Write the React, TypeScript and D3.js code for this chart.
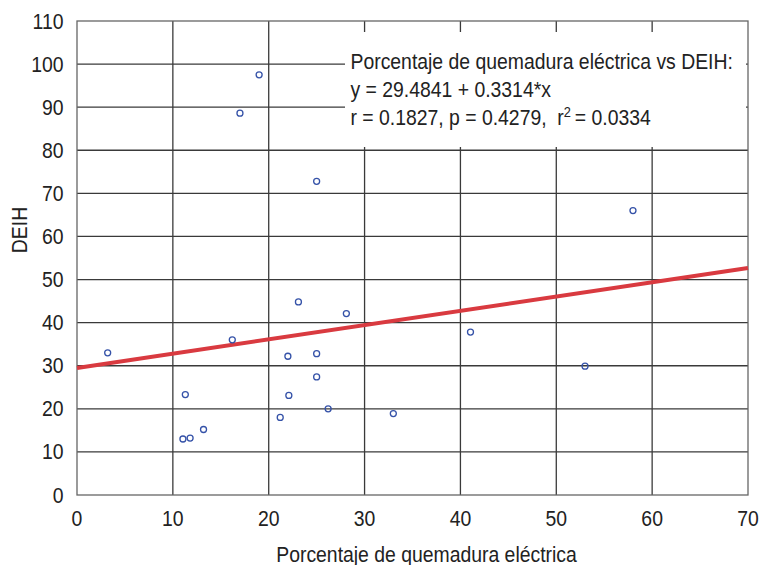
import React from "react";
import * as d3 from "d3";

const burnPct = [19, 17, 25, 3.2, 16.2, 23.1, 28.1, 22, 25, 25, 11.3, 22.1, 26.2, 21.2, 13.2, 11.05, 11.8, 58, 41.05, 53, 33];
const deih = [97.5, 88.6, 72.8, 33, 36, 44.8, 42.1, 32.2, 32.8, 27.4, 23.3, 23.1, 20, 18, 15.2, 13, 13.2, 66, 37.8, 29.9, 18.9];
const xTicks = [0, 10, 20, 30, 40, 50, 60, 70];
const yTicks = [0, 10, 20, 30, 40, 50, 60, 70, 80, 90, 100, 110];
const intercept = 29.4841;
const slope = 0.3314;
const annotationLines = [
  "Porcentaje de quemadura eléctrica vs DEIH:",
  "y = 29.4841 + 0.3314*x",
];
const xTitle = "Porcentaje de quemadura eléctrica";
const yTitle = "DEIH";

const FONT = "'Liberation Sans', Arial, Helvetica, sans-serif";
const SX = 0.915;
const FS = 21.2;

function T(props: { x: number; y: number; rot?: number; anchor?: string; children: React.ReactNode }) {
  const { x, y, rot, anchor, children } = props;
  return (
    <text
      transform={`translate(${x},${y})${rot ? ` rotate(${rot})` : ""} scale(${SX},1)`}
      textAnchor={anchor || "start"}
      fontSize={FS}
      fill="#222"
    >
      {children}
    </text>
  );
}

export default function App() {
  const W = 764, H = 565;
  const left = 77, right = 748, top = 21, bottom = 495;
  const x = d3.scaleLinear().domain([0, 70]).range([left, right]);
  const y = d3.scaleLinear().domain([0, 110]).range([bottom, top]);
  const line = d3.line<number>().x((d) => x(d)).y((d) => y(intercept + slope * d));
  const gridColor = "#3a3a3a";
  return (
    <svg width={W} height={H} style={{ position: "absolute", left: 0, top: 0, background: "#fff" }} fontFamily={FONT}>
      <rect x={0} y={0} width={W} height={H} fill="#fff" />
      {xTicks.slice(1, -1).map((t) => (
        <line key={"gx" + t} x1={x(t)} x2={x(t)} y1={top} y2={bottom} stroke={gridColor} strokeWidth={1.3} />
      ))}
      {yTicks.slice(1, -1).map((t) => (
        <line key={"gy" + t} x1={left} x2={right} y1={y(t)} y2={y(t)} stroke={gridColor} strokeWidth={1.3} />
      ))}
      <rect x={345} y={32} width={401} height={115} fill="#fff" />
      <rect x={left} y={top} width={right - left} height={bottom - top} fill="none" stroke="#666" strokeWidth={1.3} />
      <path d={line([0, 70]) || ""} stroke="#d93a40" strokeWidth={4} fill="none" />
      {burnPct.map((v, i) => (
        <circle key={"p" + i} cx={x(v)} cy={y(deih[i])} r={3} fill="none" stroke="#3552a8" strokeWidth={1.3} />
      ))}
      {xTicks.map((t) => (
        <T key={"tx" + t} x={x(t)} y={526} anchor="middle">{t}</T>
      ))}
      {yTicks.map((t) => (
        <T key={"ty" + t} x={63.5} y={y(t) + 7.5} anchor="end">{t}</T>
      ))}
      <T x={426.5} y={561.5} anchor="middle">{xTitle}</T>
      <T x={27.3} y={230} rot={-90} anchor="middle">{yTitle}</T>
      {annotationLines.map((s, i) => (
        <T key={"a" + i} x={350.5} y={69.3 + i * 27.8}>{s}</T>
      ))}
      <T x={350.5} y={125}>
        r = 0.1827, p = 0.4279,{"\u00a0\u00a0"}r<tspan dy={-8} fontSize={14}>2</tspan><tspan dy={8}>{"\u2009"}= 0.0334</tspan>
      </T>
    </svg>
  );
}
